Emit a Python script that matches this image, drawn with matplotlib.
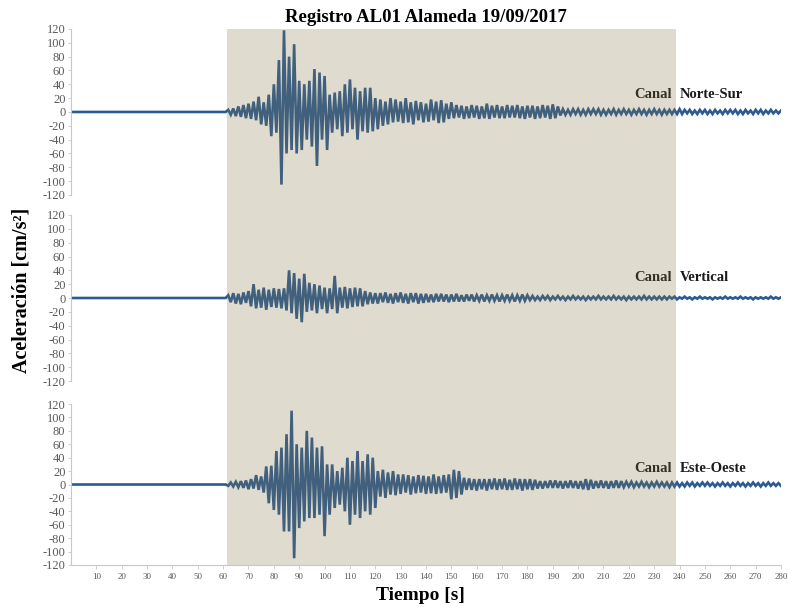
import numpy as np
import matplotlib
matplotlib.use("Agg")
import matplotlib.pyplot as plt
from matplotlib.patches import Rectangle
from matplotlib.transforms import blended_transform_factory

plt.rcParams['font.family'] = ['Liberation Serif', 'DejaVu Serif']

# Time axis (s), one value per second
tiempo = np.arange(0, 281)

# Pre-event record (0-60 s) is flat
previo = [0] * 61

# Canal Norte-Sur (cm/s^2), 61..280 s
norte_sur = previo + [
    0, 3, -4, 5, -6, 8, -7, 10, -9, 12,
    -10, 15, -12, 22, -18, 14, -20, 25, -35, 40,
    -30, 75, -105, 118, -60, 80, -55, 98, -60, 45,
    -55, 40, -40, 45, -50, 62, -78, 57, -40, 52,
    -55, 25, -30, 28, -25, 30, -35, 40, -30, 47,
    -25, 35, -40, 30, -28, 35, -30, 35, -28, 20,
    -25, 18, -20, 15, -18, 20, -15, 18, -14, 15,
    -16, 20, -15, 14, -18, 16, -12, 14, -15, 12,
    -14, 18, -12, 15, -16, 17, -15, 12, -10, 14,
    -9, 10, -8, 9, -10, 8, -9, 10, -8, 9,
    -10, 8, -9, 12, -10, 9, -8, 10, -9, 8,
    -9, 10, -8, 9, -8, 10, -9, 8, -10, 9,
    -8, 9, -10, 8, -9, 10, -8, 9, -10, 11,
    -9, 8, -5, 4, -4, 3, -4, 4, -3, 4,
    -4, 3, -4, 4, -3, 4, -3, 4, -4, 3,
    -4, 3, -3, 4, -4, 3, -3, 4, -3, 3,
    -4, 3, -3, 4, -3, 3, -4, 3, -3, 4,
    -3, 3, -4, 3, -3, 3, -3, 3, -3, 4,
    -3, 3, -2, 3, -3, 2, -3, 3, -2, 3,
    -3, 2, -3, 3, -2, 2, -3, 3, -2, 3,
    -2, 3, -3, 2, -3, 3, -2, 2, -3, 3,
    -2, 3, -3, 2, -2, 3, -2, 2, -2, 2,
]

# Canal Vertical
vertical = previo + [
    0, 4, -6, 7, -8, 6, -9, 8, -7, 10,
    -12, 20, -15, 12, -14, 15, -17, 12, -13, 14,
    -14, 13, -15, 14, -18, 40, -22, 36, -30, 28,
    -35, 35, -20, 22, -18, 20, -22, 18, -16, 15,
    -22, 14, -16, 32, -22, 15, -14, 16, -15, 14,
    -13, 15, -12, 14, -12, 10, -9, 8, -8, 7,
    -8, 7, -6, 8, -7, 6, -8, 7, -6, 8,
    -7, 6, -8, 7, -6, 7, -8, 6, -7, 6,
    -6, 5, -6, 6, -5, 6, -5, 5, -6, 5,
    -5, 6, -5, 4, -5, 5, -4, 5, -5, 4,
    -4, 5, -5, 4, -4, 5, -4, 4, -5, 4,
    -4, 5, -4, 4, -5, 4, -4, 5, -4, 4,
    -3, 3, -3, 2, -3, 3, -2, 3, -3, 2,
    -2, 3, -2, 2, -3, 2, -2, 3, -2, 2,
    -2, 2, -3, 2, -2, 2, -2, 3, -2, 2,
    -2, 2, -2, 3, -2, 2, -2, 2, -3, 2,
    -2, 2, -2, 2, -2, 3, -2, 2, -2, 2,
    -2, 2, -2, 2, -2, 2, -1, 2, -2, 1,
    -1, 2, -1, 1, -2, 1, -1, 2, -1, 1,
    -1, 1, -2, 1, -1, 1, -1, 2, -1, 1,
    -1, 1, -1, 2, -1, 1, -1, 1, -2, 1,
    -1, 1, -1, 1, -1, 2, -1, 1, -1, 1,
]

# Canal Este-Oeste
este_oeste = previo + [
    0, -2, 3, -3, 4, -4, 5, -5, 6, -7,
    8, -6, 14, -8, 12, -12, 27, -28, 28, -38,
    50, -45, 55, -70, 75, -70, 110, -110, 60, -65,
    55, -55, 80, -50, 70, -50, 55, -45, 57, -77,
    30, -45, 30, -35, 20, -30, 25, -40, 40, -60,
    35, -45, 50, -50, 35, -40, 45, -45, 40, -35,
    20, -18, 22, -20, 18, -15, 20, -16, 15, -14,
    15, -12, 14, -15, 12, -13, 14, -12, 13, -14,
    12, -13, 15, -14, 12, -13, 14, -12, 15, -22,
    22, -20, 20, -15, 10, -8, 9, -8, 8, -9,
    8, -7, 8, -9, 8, -7, 9, -8, 8, -7,
    9, -8, 7, -8, 9, -7, 8, -9, 8, -7,
    8, -8, 7, -6, 5, -6, 5, -5, 6, -5,
    6, -5, 5, -6, 5, -5, 6, -5, 5, -6,
    5, -7, 8, -8, 7, -6, 5, -5, 6, -5,
    5, -6, 5, -5, 6, -5, 5, -4, 4, -3,
    4, -4, 3, -3, 4, -3, 3, -4, 3, -3,
    4, -3, 3, -3, 3, -4, 3, -3, 3, -3,
    2, -3, 3, -2, 3, -3, 2, -2, 3, -2,
    3, -2, 2, -3, 2, -2, 3, -2, 2, -3,
    2, -2, 3, -2, 2, -3, 2, -2, 3, -2,
    2, -3, 2, -2, 3, -2, 2, -2, 2, -2,
]

canales = ['Norte-Sur', 'Vertical', 'Este-Oeste']
series = [norte_sur, vertical, este_oeste]
yticks = list(range(-120, 121, 20))
xticks = list(range(10, 281, 10))
ventana = (61.5, 238.5)  # shaded strong-motion window (s)

line_color = '#2c5a92'
gray = '#595959'
axis_gray = '#c8c8c8'

fig = plt.figure(figsize=(7.88, 6.07), dpi=100)

# axes rectangles in figure fraction
rects = [
    [0.0901, 0.6788, 0.9010, 0.2735],
    [0.0901, 0.3723, 0.9010, 0.2735],
    [0.0901, 0.0692, 0.9010, 0.2652],
]
label_y = [25, 29, 24]

axes = []
for k, (nombre, datos) in enumerate(zip(canales, series)):
    ax = fig.add_axes(rects[k])
    ax.plot(tiempo, datos, color=line_color, linewidth=1.9, solid_joinstyle='miter')
    ax.set_xlim(0, 280)
    ax.set_ylim(-120, 120)
    ax.set_yticks(yticks)
    ax.set_yticklabels([str(v) for v in yticks], fontsize=9, color=gray)
    ax.tick_params(axis='y', length=2.5, width=0.6, color=axis_gray, pad=1.5)
    for s in ['top', 'right']:
        ax.spines[s].set_visible(False)
    ax.spines['left'].set_color(axis_gray)
    ax.spines['left'].set_linewidth(0.8)
    if k < 2:
        ax.spines['bottom'].set_visible(False)
        ax.set_xticks([])
    else:
        ax.spines['bottom'].set_color(axis_gray)
        ax.spines['bottom'].set_linewidth(0.8)
        ax.set_xticks(xticks)
        ax.set_xticklabels([str(v) for v in xticks], fontsize=6.5, color=gray)
        ax.tick_params(axis='x', length=3, width=0.6, color=axis_gray, pad=3)
    ax.patch.set_alpha(0)
    ax.text(237, label_y[k], 'Canal', ha='right', va='center',
            fontsize=10.5, fontweight='bold', color='#1a1a1a')
    ax.text(240, label_y[k], nombre, ha='left', va='center',
            fontsize=10.5, fontweight='bold', color='#1a1a1a')
    axes.append(ax)

# translucent beige band over the strong-motion window
trans = blended_transform_factory(axes[2].transData, fig.transFigure)
band = Rectangle((ventana[0], 0.0692), ventana[1] - ventana[0], 0.9523 - 0.0692,
                 transform=trans, facecolor='#83733f', alpha=0.25,
                 edgecolor='none', zorder=10)
fig.add_artist(band)

fig.text(426 / 788, 1 - 17 / 607, 'Registro AL01 Alameda 19/09/2017',
         ha='center', va='center', fontsize=13.5, fontweight='bold')
fig.text(420 / 788, 1 - 595 / 607, 'Tiempo [s]', ha='center', va='center',
         fontsize=14, fontweight='bold')
fig.text(22 / 788, 1 - 290 / 607, 'Aceleración [cm/s²]', ha='center', va='center',
         rotation=90, fontsize=14.5, fontweight='bold')

fig.savefig('out.png', dpi=100)
